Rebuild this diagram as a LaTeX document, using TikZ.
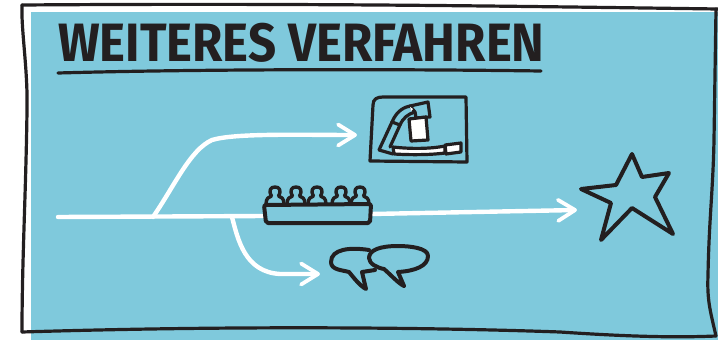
\documentclass[tikz,border=0pt]{standalone}
\usepackage{fontspec}
\setmainfont{Fira Sans}
\usepackage{tikz}
\usetikzlibrary{arrows.meta, positioning, calc}
\definecolor{sheetblue}{HTML}{7FC9DC}
\definecolor{inkblack}{HTML}{231F20}
\tikzset{
  ink/.style={draw=inkblack, line width=4pt, line join=round, line cap=round},
  thinink/.style={draw=inkblack, line width=3.4pt, line join=round, line cap=round},
  frameink/.style={draw=inkblack, line width=3.2pt, line join=round, line cap=round},
  flowline/.style={draw=white, line width=4.4pt, line cap=round},
  flowarrow/.style={flowline, -{Straight Barb[length=17pt, width=21pt, line width=3.8pt, round]}},
  person/.pic={
    \draw[thinink] (-9,0) .. controls (-9,-6) and (-6,-7) .. (-3.5,-8)
      .. controls (-7,-14) and (-4,-17) .. (0,-17)
      .. controls (4,-17) and (7,-14) .. (3.5,-8)
      .. controls (6,-7) and (9,-6) .. (9,0);
  }
}
\begin{document}
\begin{tikzpicture}[x=1pt, y=-1pt, >=Stealth]
  \useasboundingbox (0,0) rectangle (718,340);
  \fill[sheetblue] (31,12) rectangle (718,340);
  \draw[frameink] (22,5) .. controls (300,3) and (500,6) .. (718,9);
  \draw[frameink] (22,5) .. controls (21,30) and (28,70) .. (27,110)
    .. controls (26,190) and (22,260) .. (22,332);
  \draw[frameink] (22,332) .. controls (250,325) and (450,328) .. (560,332)
    .. controls (620,336) and (670,338) .. (716,336);
  \draw[frameink] (716,336) .. controls (710,310) and (707,300) .. (708,275)
    .. controls (709,220) and (713,190) .. (714,140) -- (716,9);

  \node[inkblack, font=\fontsize{54}{54}\selectfont\bfseries, anchor=base west, inner sep=0pt, xscale=0.911] (title) at (58,61) {WEITERES VERFAHREN};
  \draw[frameink] (58,73) .. controls (200,69) and (400,69) .. (541,71);

  % Flow lines
  \coordinate (start) at (58,217);
  \coordinate (forkup) at (153,217);
  \coordinate (forkdown) at (232,217);
  \coordinate (boardin) at (265,216);
  \coordinate (boardout) at (371,214);
  \coordinate (goal) at (577,210);
  \coordinate (tabletin) at (357,135);
  \coordinate (talkin) at (320,274);
  \draw[flowline] (start) -- (boardin);
  \draw[flowarrow] (boardout) -- (goal);
  \draw[flowarrow] (forkup) .. controls (175,185) and (190,150) .. (212,140)
    .. controls (235,133) and (300,135) .. (tabletin);
  \draw[flowarrow] (forkdown) .. controls (238,240) and (245,272) .. (280,274) -- (talkin);

  % Tablet
  \draw[frameink] (373,105) .. controls (373,99) and (377,97) .. (383,97) -- (466,97) -- (467,162) -- (370,161) -- cycle;
  \draw[frameink] (379,150) -- (392,122) -- (400,125) -- (390,147) (393,154) -- (379,150);
  \draw[frameink] (392,122) .. controls (397,110) and (405,107) .. (410,106) -- (415,112) .. controls (408,114) and (403,118) .. (400,125);
  \draw[frameink] (410,106) -- (428,102) -- (430,117) -- (416,118) -- (415,112);
  \fill[white] (410,107) -- (413,109) -- (411,111) -- cycle;
  \draw[frameink, fill=white] (409,119) -- (426,117) -- (428,140) -- (411,141) -- cycle;
  \draw[frameink, fill=white] (393,147) .. controls (410,149) and (430,149) .. (445,146)
    -- (445,153) .. controls (430,155) and (410,155) .. (394,154) -- cycle;
  \draw[frameink, fill=white] (445,145) -- (461,143) -- (461,152) -- (446,154) -- cycle;

  % Board with people
  \foreach \px in {275,296,317,341,360}
    \pic at (\px,204) {person};
  \draw[ink, rounded corners=2pt, fill=sheetblue] (264,205) -- (371,204) -- (370,223) -- (266,223) -- cycle;

  % Speech bubbles
  \draw[ink] (369,250) .. controls (350,247) and (331,249) .. (331,262)
    .. controls (331,270) and (342,270) .. (349,272)
    .. controls (354,278) and (360,286) .. (366,289)
    -- (362,272) -- (375,270);
  \draw[ink, fill=sheetblue] (404,286) -- (398,272)
    .. controls (415,271) and (428,266) .. (428,256)
    .. controls (428,248) and (410,246) .. (398,246)
    .. controls (380,246) and (369,250) .. (369,258)
    .. controls (369,264) and (378,268) .. (384,269)
    .. controls (392,276) and (398,283) .. (404,286);

  % Star
  \draw[ink] (632,154) -- (642,177) -- (669,173) -- (655,197) -- (673,234) -- (632,208) -- (601,240) -- (611,203) -- (581,189) -- (616,185) -- cycle;
\end{tikzpicture}
\end{document}
